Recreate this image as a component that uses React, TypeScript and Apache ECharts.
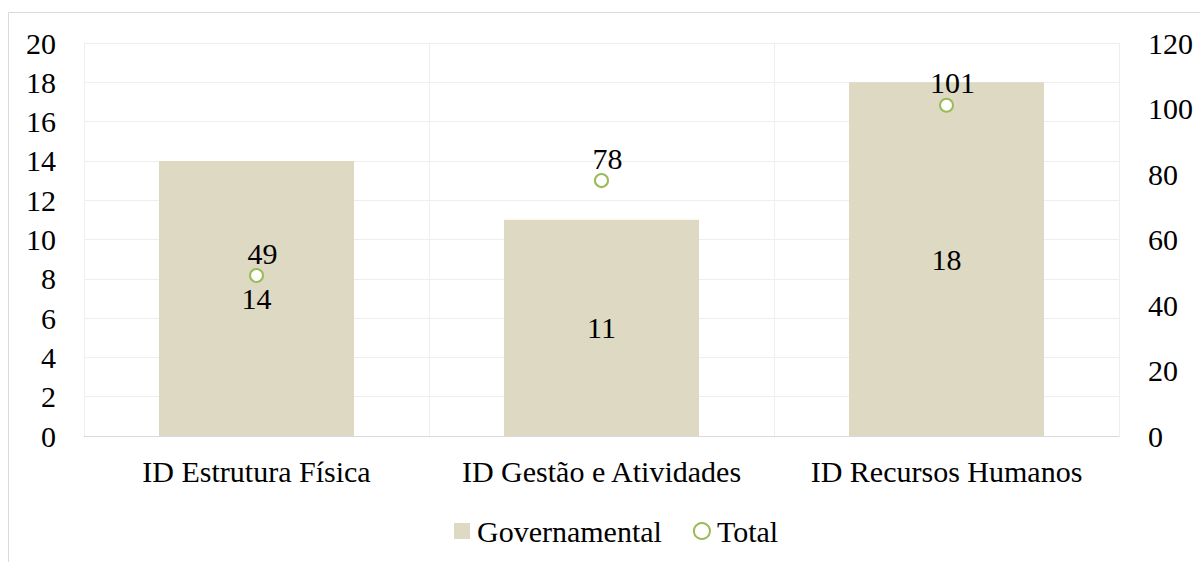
import React, { useEffect, useRef } from "react";
import * as echarts from "echarts";

const categories = ["ID Estrutura Física", "ID Gestão e Atividades", "ID Recursos Humanos"];
const governamental = [14, 11, 18];
const total = [49, 78, 101];
const leftTicks = { min: 0, max: 20, interval: 2 };
const rightTicks = { min: 0, max: 120, interval: 20 };

const FONT = '"Liberation Serif", serif';
const FS = 30;

export default function App() {
  const ref = useRef<HTMLDivElement>(null);
  useEffect(() => {
    if (!ref.current) return;
    const chart = echarts.init(ref.current, undefined, { renderer: "svg" });
    chart.setOption({
      animation: false,
      backgroundColor: "#ffffff",
      textStyle: { fontFamily: FONT, color: "#000" },
      graphic: [
        {
          type: "rect",
          shape: { x: 8.5, y: 12.5, width: 1300, height: 700 },
          style: { fill: "none", stroke: "#d9d9d9", lineWidth: 1 },
          silent: true,
        },
      ],
      grid: {
        left: 84,
        right: 81,
        top: 43,
        bottom: 126,
        containLabel: false,
        outerBoundsMode: "none",
      },
      legend: {
        left: 449,
        top: 511,
        itemWidth: 16,
        itemHeight: 16,
        itemGap: 31,
        textStyle: { fontFamily: FONT, fontSize: FS, color: "#000", padding: [0, 0, 0, 2] },
        data: [
          { name: "Governamental", icon: "rect" },
          { name: "Total", icon: "circle" },
        ],
      },
      xAxis: {
        type: "category",
        data: categories,
        boundaryGap: true,
        axisLine: { show: true, lineStyle: { color: "#d9d9d9", width: 1 } },
        axisTick: { show: false },
        axisLabel: { fontFamily: FONT, fontSize: FS, color: "#000", margin: 20, interval: 0 },
        splitLine: { show: true, lineStyle: { color: "#eeeeee", width: 1 } },
      },
      yAxis: [
        {
          type: "value",
          min: leftTicks.min,
          max: leftTicks.max,
          interval: leftTicks.interval,
          axisLine: { show: false },
          axisTick: { show: false },
          axisLabel: { fontFamily: FONT, fontSize: FS, color: "#000", margin: 28 },
          splitLine: { show: true, lineStyle: { color: "#eeeeee", width: 1 } },
        },
        {
          type: "value",
          min: rightTicks.min,
          max: rightTicks.max,
          interval: rightTicks.interval,
          position: "right",
          axisLine: { show: false },
          axisTick: { show: false },
          axisLabel: { fontFamily: FONT, fontSize: FS, color: "#000", margin: 29 },
          splitLine: { show: false },
        },
      ],
      series: [
        {
          name: "Governamental",
          type: "bar",
          data: governamental,
          yAxisIndex: 0,
          barWidth: 195,
          itemStyle: { color: "#ddd9c3" },
          label: {
            show: true,
            position: "inside",
            fontFamily: FONT,
            fontSize: FS,
            color: "#000",
          },
        },
        {
          name: "Total",
          type: "scatter",
          data: total,
          yAxisIndex: 1,
          symbol: "circle",
          symbolSize: 13,
          itemStyle: { color: "#ffffff", borderColor: "#9bbb59", borderWidth: 2, opacity: 1 },
          label: {
            show: true,
            position: "top",
            distance: 0,
            offset: [6, 0],
            fontFamily: FONT,
            fontSize: FS,
            color: "#000",
          },
        },
      ],
    });
    return () => chart.dispose();
  }, []);
  return (
    <div
      ref={ref}
      style={{ position: "fixed", left: 0, top: 0, width: 1200, height: 562 }}
    />
  );
}
